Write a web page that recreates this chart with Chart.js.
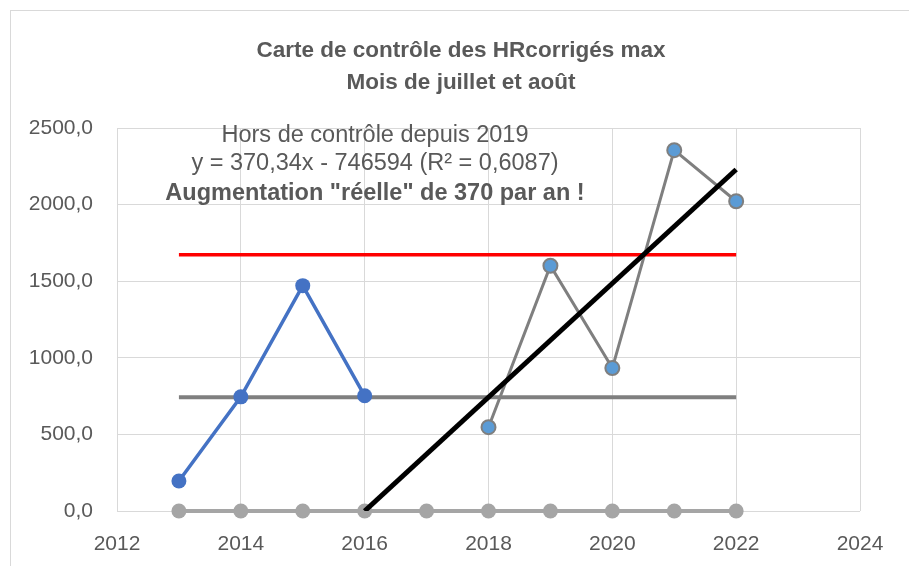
<!DOCTYPE html>
<html>
<head>
<meta charset="utf-8">
<script src="https://cdn.jsdelivr.net/npm/chart.js@4"></script>
<style>
  html, body { margin: 0; padding: 0; background: #fff; overflow: hidden; }
  canvas { display: block; }
</style>
</head>
<body>
<canvas id="control-chart" width="909" height="566"></canvas>
<script>
// data
const yearsBefore = [2013, 2014, 2015, 2016];
const valuesBefore = [196, 745, 1471, 752];
const yearsAfter = [2018, 2019, 2020, 2021, 2022];
const valuesAfter = [547, 1601, 933, 2355, 2022];
const allYears = [2013, 2014, 2015, 2016, 2017, 2018, 2019, 2020, 2021, 2022];
const zeroValues = [0, 0, 0, 0, 0, 0, 0, 0, 0, 0];
const meanValue = 742;
const upperLimit = 1673;
const trendYears = [2016, 2022];
const trendValues = [0, 2229];

const titleLines = ['Carte de contrôle des HRcorrigés max', 'Mois de juillet et août'];
const noteLines = ['Hors de contrôle depuis 2019', 'y = 370,34x - 746594 (R² = 0,6087)'];
const noteBold = 'Augmentation "réelle" de 370 par an !';

function points(xs, ys) {
  return xs.map((x, i) => ({ x: x, y: ys[i] }));
}

const fontName = '"Liberation Sans", Arial, sans-serif';
const textGray = '#595959';

const textPlugin = {
  id: 'texts',
  beforeDraw(chart) {
    const ctx = chart.ctx;
    ctx.save();
    ctx.fillStyle = '#fff';
    ctx.fillRect(0, 0, chart.width, chart.height);
    ctx.strokeStyle = '#d9d9d9';
    ctx.lineWidth = 1;
    ctx.strokeRect(10.5, 10.5, 2000, 2000);
    ctx.restore();
  },
  afterDraw(chart) {
    const ctx = chart.ctx;
    ctx.save();
    ctx.fillStyle = textGray;
    ctx.textAlign = 'center';
    ctx.textBaseline = 'alphabetic';
    ctx.font = 'bold 22.5px ' + fontName;
    ctx.fillText(titleLines[0], 461, 57);
    ctx.fillText(titleLines[1], 461, 89);
    ctx.font = '23.5px ' + fontName;
    ctx.fillText(noteLines[0], 375, 142);
    ctx.fillText(noteLines[1], 375, 170);
    ctx.font = 'bold 23.5px ' + fontName;
    ctx.fillText(noteBold, 375, 200);
    ctx.restore();
  }
};

new Chart(document.getElementById('control-chart'), {
  type: 'scatter',
  data: {
    datasets: [
      {
        label: 'Tendance',
        data: points(trendYears, trendValues),
        showLine: true,
        borderColor: '#000000',
        borderWidth: 5,
        pointRadius: 0
      },
      {
        label: 'Limite haute',
        data: points(allYears, allYears.map(() => upperLimit)),
        showLine: true,
        borderColor: '#ff0000',
        borderWidth: 3.5,
        pointRadius: 0
      },
      {
        label: 'Depuis 2018',
        data: points(yearsAfter, valuesAfter),
        showLine: true,
        borderColor: '#7f7f7f',
        borderWidth: 3,
        pointRadius: 7,
        pointBackgroundColor: '#5b9bd5',
        pointBorderColor: '#7f7f7f',
        pointBorderWidth: 2
      },
      {
        label: 'Avant 2017',
        data: points(yearsBefore, valuesBefore),
        showLine: true,
        borderColor: '#4472c4',
        borderWidth: 3.5,
        pointRadius: 7.5,
        pointBackgroundColor: '#4472c4',
        pointBorderColor: '#4472c4',
        pointBorderWidth: 0
      },
      {
        label: 'Moyenne',
        data: points(allYears, allYears.map(() => meanValue)),
        showLine: true,
        borderColor: '#7f7f7f',
        borderWidth: 4,
        pointRadius: 0
      },
      {
        label: 'Zéro',
        data: points(allYears, zeroValues),
        showLine: true,
        clip: false,
        borderColor: '#a5a5a5',
        borderWidth: 4,
        pointRadius: 7.5,
        pointBackgroundColor: '#a5a5a5',
        pointBorderColor: '#a5a5a5',
        pointBorderWidth: 0
      }
    ]
  },
  options: {
    responsive: false,
    animation: false,
    layout: { padding: { top: 128, right: 49, bottom: 0, left: 0 } },
    plugins: {
      legend: { display: false },
      tooltip: { enabled: false },
      title: { display: false }
    },
    scales: {
      x: {
        type: 'linear',
        min: 2012,
        max: 2024,
        afterFit: (s) => { s.height = 55; },
        grid: { color: '#d9d9d9', lineWidth: 1, drawTicks: false },
        border: { display: false },
        ticks: {
          stepSize: 2,
          padding: 21,
          color: textGray,
          font: { family: fontName, size: 21 },
          callback: (v) => String(v)
        }
      },
      y: {
        min: 0,
        max: 2500,
        afterFit: (s) => { s.width = 117; },
        grid: { color: '#d9d9d9', lineWidth: 1, drawTicks: false },
        border: { display: false },
        ticks: {
          stepSize: 500,
          padding: 24,
          color: textGray,
          font: { family: fontName, size: 21 },
          callback: (v) => v.toFixed(1).replace('.', ',')
        }
      }
    }
  },
  plugins: [textPlugin]
});
</script>
</body>
</html>
